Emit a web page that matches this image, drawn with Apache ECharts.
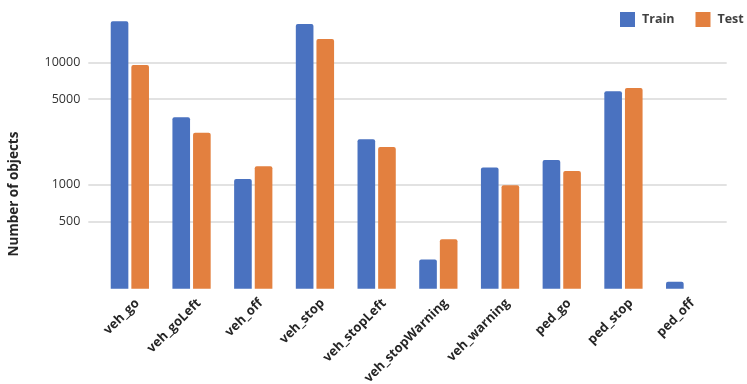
<!DOCTYPE html>
<html>
<head>
<meta charset="utf-8">
<script src="https://cdn.jsdelivr.net/npm/echarts@6/dist/echarts.min.js"></script>
<style>html,body{margin:0;padding:0;background:#fff}#c{width:747px;height:384px}</style>
</head>
<body>
<div id="c"></div>
<script>
const categories = ['veh_go','veh_goLeft','veh_off','veh_stop','veh_stopLeft','veh_stopWarning','veh_warning','ped_go','ped_stop','ped_off'];
const trainValues = [21600, 3550, 1110, 20600, 2350, 244, 1380, 1590, 5800, 161];
const testValues = [9500, 2660, 1410, 15500, 2030, 358, 990, 1290, 6170, null];
const yTickValues = [500, 1000, 5000, 10000];
const yAxisTitle = 'Number of objects';

const FONT = '"Open Sans", "Liberation Sans", sans-serif';
const yMin = 141, yMax = 25000;
const chart = echarts.init(document.getElementById('c'), null, {renderer: 'canvas'});
chart.setOption({
  animation: false,
  textStyle: {fontFamily: FONT},
  legend: {
    data: ['Train', 'Test'],
    orient: 'horizontal',
    left: 620, top: 12, width: 140, padding: 0,
    itemWidth: 15, itemHeight: 15, itemGap: 21,
    icon: 'rect',
    textStyle: {fontFamily: FONT, fontSize: 12.5, fontWeight: 'bold', color: '#404040', padding: [0, 0, 0, 2]}
  },
  grid: [
    {left: 88.3, right: 20.3, top: 13.6, bottom: 95.3, outerBoundsMode: 'none', containLabel: false},
    {left: 99, right: 31, top: 13.6, bottom: 95.3, outerBoundsMode: 'none', containLabel: false},
    {left: 88.3, right: 20.3, top: 135, bottom: 131, outerBoundsMode: 'none', containLabel: false}
  ],
  xAxis: [
    {gridIndex: 0, type: 'category', data: categories, show: false},
    {gridIndex: 1, type: 'category', data: categories,
     axisLine: {show: false}, axisTick: {show: false},
     axisLabel: {interval: 0, rotate: 45, margin: 5, verticalAlign: 'top', padding: [4, 0, 0, 0],
                 fontFamily: FONT, fontSize: 13, fontWeight: 'bold', color: '#262626'}},
    {gridIndex: 2, type: 'category', data: categories, show: false}
  ],
  yAxis: [
    {gridIndex: 0, type: 'log', logBase: 10, min: yMin, max: yMax,
     axisLine: {show: false},
     axisTick: {show: false, customValues: yTickValues},
     axisLabel: {customValues: yTickValues, margin: 8, fontFamily: FONT, fontSize: 12.5, color: '#333', formatter: v => String(Math.round(v))},
     splitLine: {show: true, lineStyle: {color: '#d9d9d9', width: 1.5}}
    },
    {gridIndex: 1, type: 'log', logBase: 10, min: yMin, max: yMax, show: false, splitLine: {show: false}},
    {gridIndex: 2, type: 'value', min: 0, max: 1,
     name: yAxisTitle, nameLocation: 'middle', nameGap: 67,
     nameTextStyle: {fontFamily: FONT, fontSize: 13.5, fontWeight: 'bold', color: '#262626'},
     axisLine: {show: false}, axisTick: {show: false}, axisLabel: {show: false}, splitLine: {show: false}}
  ],
  series: [
    {name: 'Train', type: 'bar', xAxisIndex: 1, yAxisIndex: 1, data: trainValues,
     barGap: '17%', barCategoryGap: '38%',
     itemStyle: {color: '#4A72C0', borderRadius: [2, 2, 0, 0]}},
    {name: 'Test', type: 'bar', xAxisIndex: 1, yAxisIndex: 1, data: testValues,
     barGap: '17%', barCategoryGap: '38%',
     itemStyle: {color: '#E3803F', borderRadius: [2, 2, 0, 0]}}
  ]
});
</script>
</body>
</html>
